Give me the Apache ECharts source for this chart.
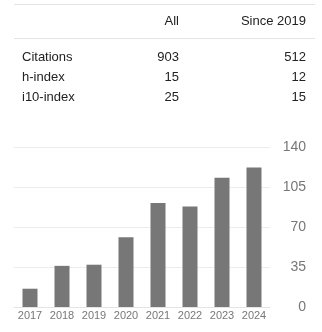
<!DOCTYPE html>
<html>
<head>
<meta charset="utf-8">
<script src="https://cdn.jsdelivr.net/npm/echarts@6/dist/echarts.min.js"></script>
<style>
  html, body { margin: 0; padding: 0; background: #fff; }
  #chart { width: 322px; height: 332px; }
</style>
</head>
<body>
<div id="chart"></div>
<script>
// Citation summary table
const tableHeaders = ['All', 'Since 2019'];
const rowLabels = ['Citations', 'h-index', 'i10-index'];
const allValues = [903, 15, 25];
const sinceValues = [512, 12, 15];

// Citations per year
const years = ['2017', '2018', '2019', '2020', '2021', '2022', '2023', '2024'];
const citations = [16, 36, 37, 61, 91, 88, 113, 122];

const FONT = '"Liberation Sans", Arial, sans-serif';
const textColor = '#222';
const rowY = [57, 77, 97];

const graphics = [
  { type: 'line', shape: { x1: 14, y1: 4.5, x2: 315, y2: 4.5 }, style: { stroke: '#e4e4e4', lineWidth: 1 } },
  { type: 'line', shape: { x1: 14, y1: 38.5, x2: 315, y2: 38.5 }, style: { stroke: '#e4e4e4', lineWidth: 1 } },
  { type: 'text', x: 179, y: 21, style: { text: tableHeaders[0], fill: textColor, font: '13px ' + FONT, align: 'right', verticalAlign: 'middle' } },
  { type: 'text', x: 306, y: 21, style: { text: tableHeaders[1], fill: textColor, font: '13px ' + FONT, align: 'right', verticalAlign: 'middle' } }
];
rowLabels.forEach((label, i) => {
  graphics.push({ type: 'text', x: 22, y: rowY[i], style: { text: label, fill: textColor, font: '13px ' + FONT, align: 'left', verticalAlign: 'middle' } });
  graphics.push({ type: 'text', x: 179, y: rowY[i], style: { text: String(allValues[i]), fill: textColor, font: '13px ' + FONT, align: 'right', verticalAlign: 'middle' } });
  graphics.push({ type: 'text', x: 306, y: rowY[i], style: { text: String(sinceValues[i]), fill: textColor, font: '13px ' + FONT, align: 'right', verticalAlign: 'middle' } });
});

const chart = echarts.init(document.getElementById('chart'), null, { renderer: 'canvas' });
chart.setOption({
  animation: false,
  backgroundColor: '#fff',
  textStyle: { fontFamily: FONT },
  graphic: graphics,
  grid: { left: 14, right: 52, top: 147, bottom: 25, containLabel: false },
  xAxis: {
    type: 'category',
    data: years,
    axisLine: { show: true, lineStyle: { color: '#e4e4e4' } },
    axisTick: { show: false },
    axisLabel: { color: '#777', fontSize: 11, margin: 3, interval: 0, fontFamily: FONT }
  },
  yAxis: {
    type: 'value',
    position: 'right',
    min: 0,
    max: 140,
    interval: 35,
    axisLine: { show: false },
    axisTick: { show: false },
    splitLine: { lineStyle: { color: '#ececec' } },
    axisLabel: { color: '#777', fontSize: 14, align: 'right', margin: 36, fontFamily: FONT }
  },
  series: [{
    type: 'bar',
    data: citations,
    barWidth: 15,
    itemStyle: { color: '#777' }
  }]
});
</script>
</body>
</html>
